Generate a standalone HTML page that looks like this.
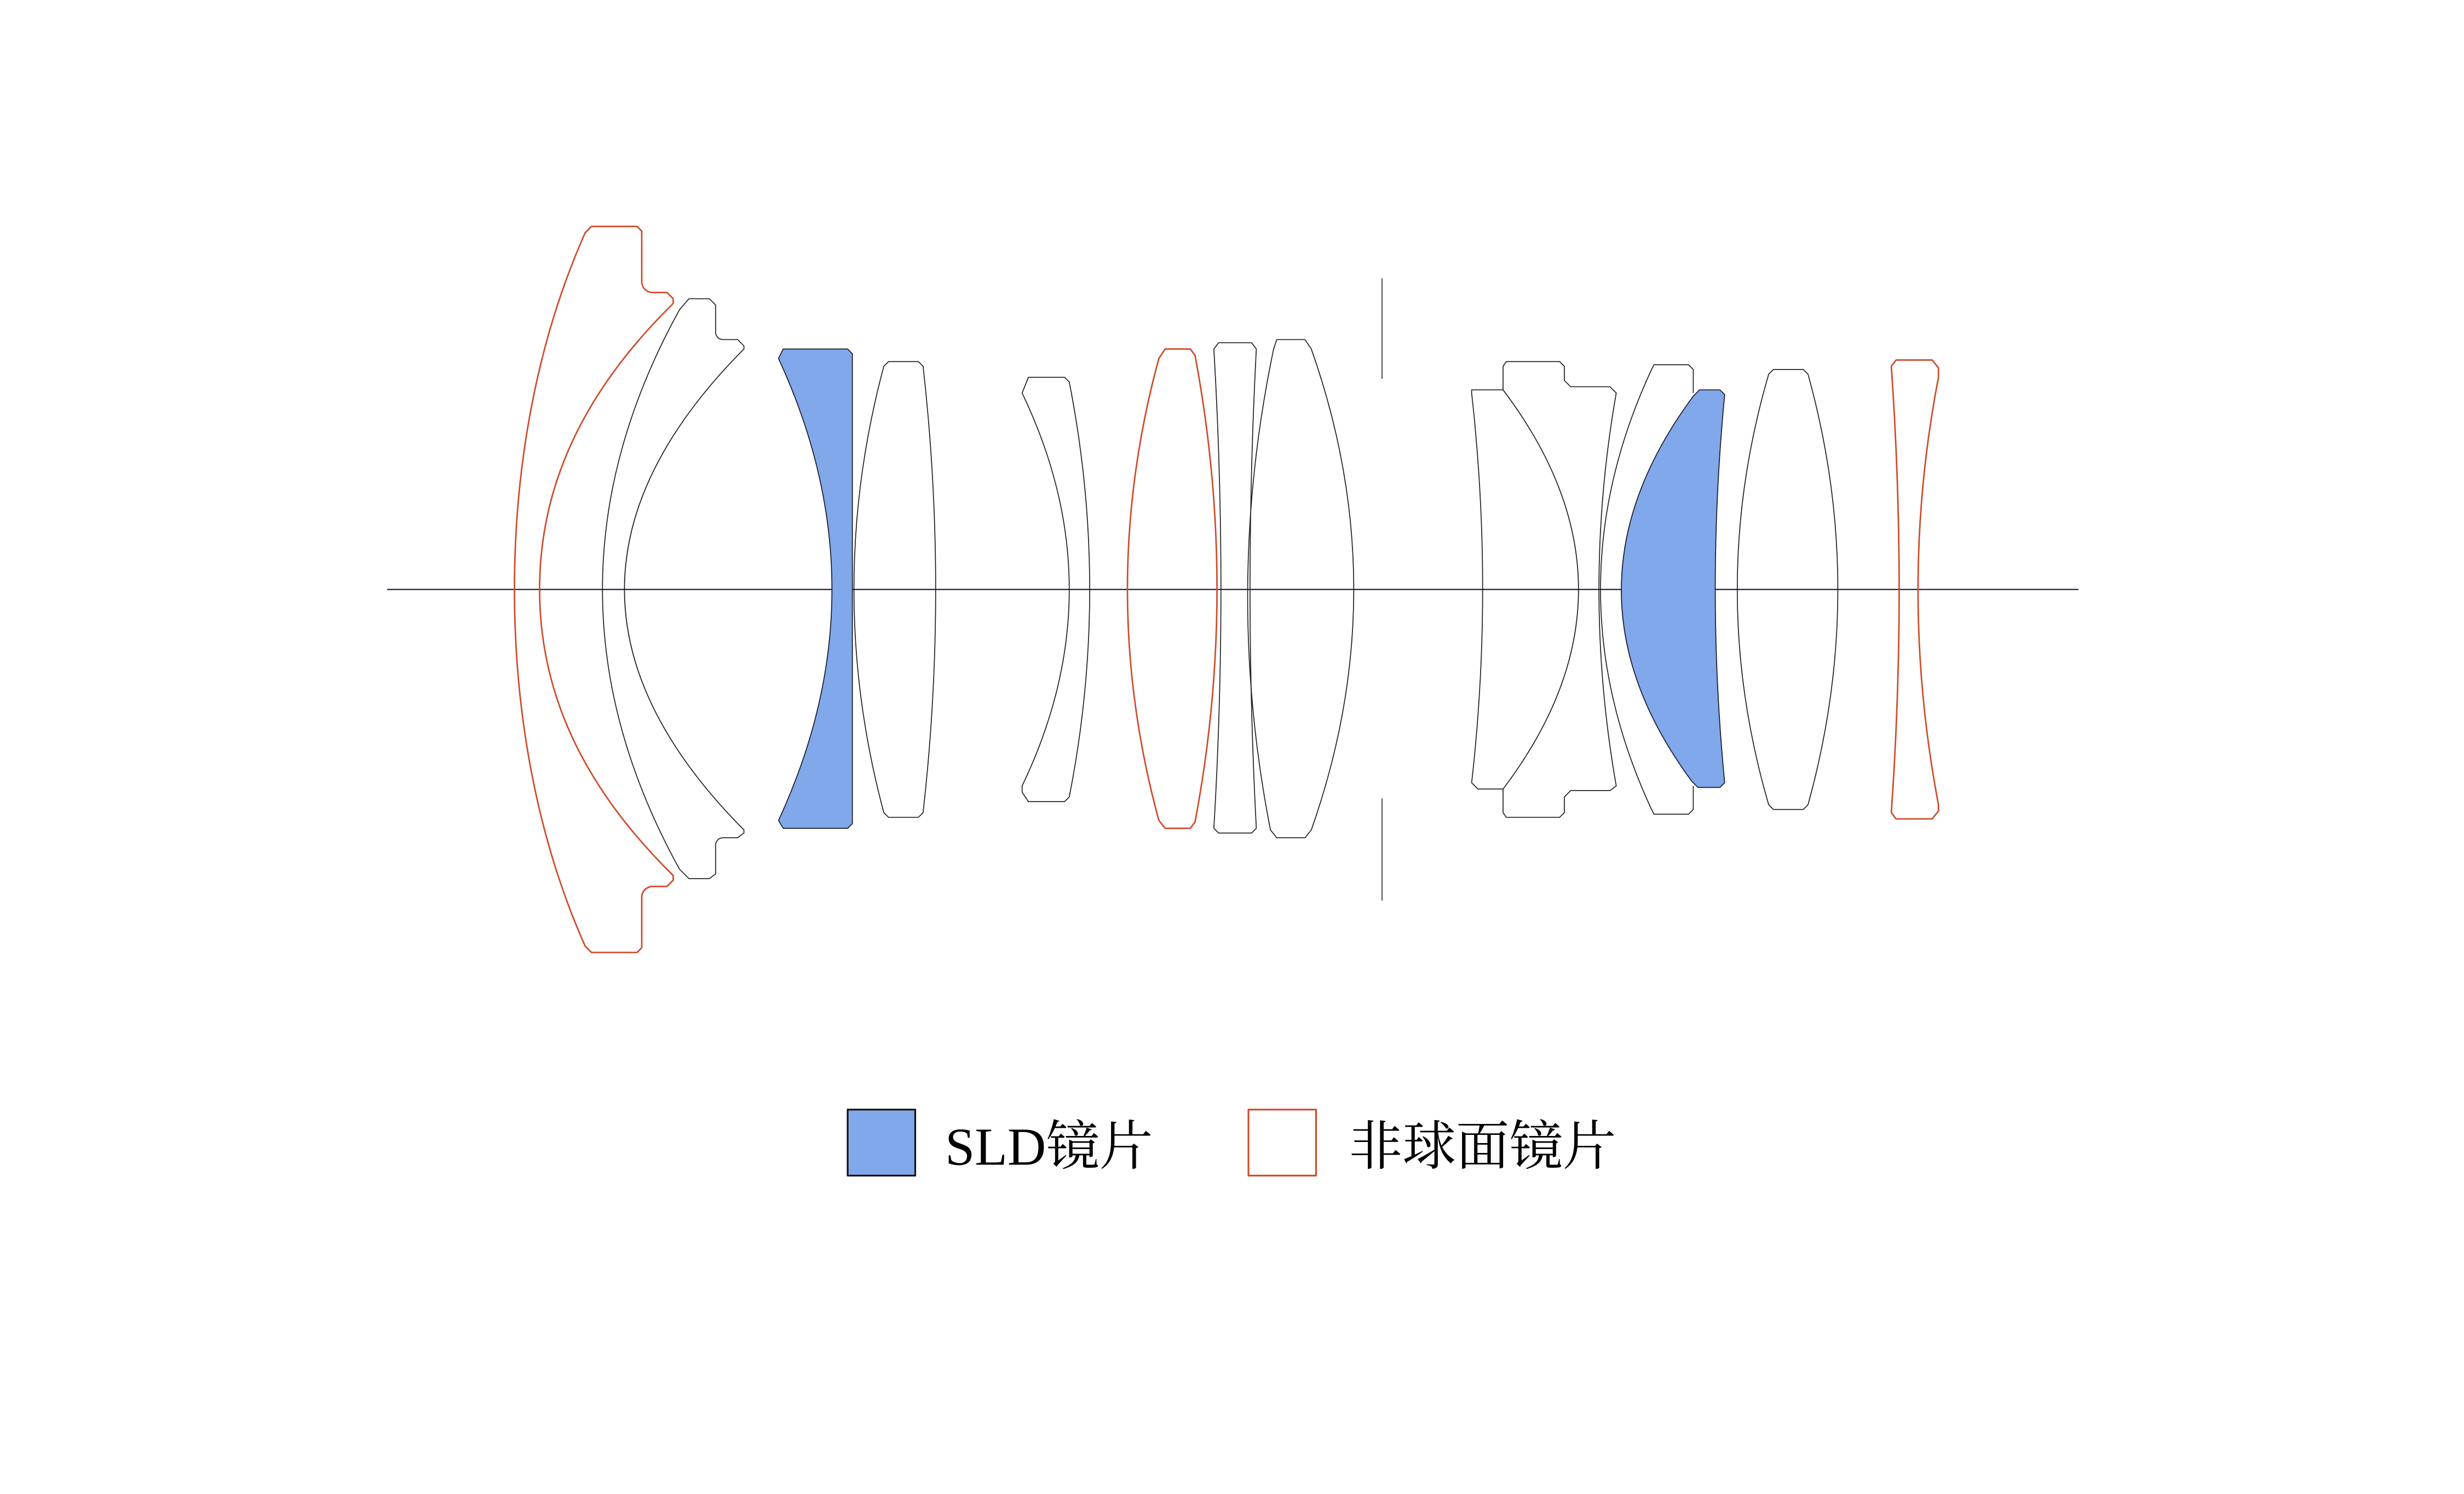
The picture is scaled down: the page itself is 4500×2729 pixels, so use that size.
<!DOCTYPE html>
<html><head><meta charset="utf-8"><style>
html,body{margin:0;padding:0;background:#fff;width:4500px;height:2729px;overflow:hidden}
svg{display:block}
</style></head><body>
<svg width="4500" height="2729" viewBox="0 0 1552 941" xmlns="http://www.w3.org/2000/svg">
<g transform="translate(0.3,0) scale(0.99)">
<g fill="none" stroke-width="0.6" stroke-linejoin="round">
<!-- axis -->
<line x1="246" y1="375" x2="1322" y2="375" stroke="#1c2340" stroke-width="0.8"/>
<!-- stop -->
<line x1="879" y1="177" x2="879" y2="241" stroke="#333"/>
<line x1="879" y1="508" x2="879" y2="573" stroke="#333"/>

<!-- L1 red -->
<path stroke="#cf4a2a" stroke-width="0.95" d="M376,144 L405,144 L408,147 L408,180 Q409,185 414,186 L424,186 L428,190 L428,193 C370,250 343,310 343,375 C343,440 370,500 428,557 L428,560 L424,564 L414,564 Q409,565 408,570 L408,603 L405,606 L376,606 L372,602 C340,530 327,450 327,375 C327,300 340,220 372,148 Z"/>
<!-- L2 -->
<path stroke="#222" d="M438,190 L451,190 L455,194 L455,212 Q456,216 460,216 L469,216 L473,220 L473,222 Q321,375 473,528 L473,530 L469,533 L460,533 Q456,533 455,537 L455,556 L451,559 L438,559 L432,553 Q334,375 432,197 Z"/>
<!-- L3 blue -->
<path stroke="#1a1a2a" fill="#80a8ea" d="M498,222 L539,222 L542,225 L542,524 L539,527 L498,527 L495,522 Q563,375 495,228 Z"/>
<!-- L4 -->
<path stroke="#222" d="M565,230 L584,230 L587,233 Q603,375 587,517 L584,520 L565,520 L562,517 Q524,375 562,233 Z"/>
<!-- L5 -->
<path stroke="#222" d="M654,240 L677,240 L680,243 Q706,375 680,507 L677,510 L654,510 L650,504 L650,500 Q710,375 650,250 Z"/>
<!-- L6 red -->
<path stroke="#cf4a2a" stroke-width="0.95" d="M741,222 L757,222 L760,226 Q788,375 760,523 L757,527 L741,527 L737,522 Q697,375 737,228 Z"/>
<!-- L7 -->
<path stroke="#222" d="M775,218 L796,218 L799,222 Q791,375 799,527 L796,530 L775,530 L772,527 Q781,375 772,222 Z"/>
<!-- L8 -->
<path stroke="#222" d="M812,216 L830,216 L834,222 Q888,375 834,528 L830,533 L812,533 L808,528 Q778,375 810,222 Z"/>
<!-- L9 + L10 cemented -->
<path stroke="#222" d="M936,250 L936,248 L956,248 Q1052,375 956,502 L940,502 L936,498 Q950,375 936,250 Z"/>
<path stroke="#222" d="M956,248 L956,233 L958,230 L992,230 L995,233 L995,242 L999,246 L1024,246 L1028,250 Q1006,375 1028,500 L1024,503 L999,503 L995,507 L995,517 L992,520 L958,520 L956,517 L956,502"/>
<!-- L11 -->
<path stroke="#222" d="M1052,232 L1074,232 L1077,235 L1077,250 M1077,500 L1077,515 L1074,518 L1052,518 L1050,514 Q986,375 1050,236 L1052,232"/>
<!-- L12 blue -->
<path stroke="#1a1a2a" fill="#80a8ea" d="M1081,248 L1094,248 L1097,251 Q1085,375 1097,498 L1094,501 L1080,501 L1076,497 Q986,375 1077,252 Z"/>
<!-- L13 -->
<path stroke="#222" d="M1128,235 L1147,235 L1150,238 Q1188,375 1150,512 L1147,515 L1128,515 L1125,512 Q1085,375 1125,238 Z"/>
<!-- L14 red -->
<path stroke="#cf4a2a" stroke-width="0.95" d="M1206,229 L1229,229 L1233,234 L1233,240 Q1207,375 1233,512 L1233,516 L1229,521 L1206,521 L1203,517 Q1213,375 1203,233 Z"/>

<!-- legend -->
<rect x="539" y="706" width="43" height="42" fill="#80a8ea" stroke="#111" stroke-width="1.1"/>
<rect x="794" y="706" width="43" height="42" fill="#fff" stroke="#cf4a2a" stroke-width="1.1"/>
</g>
<g font-family="'Liberation Serif','Noto Serif CJK SC',serif" font-size="34" fill="#000">
<text x="601" y="741">SLD镜片</text>
<text x="858" y="741">非球面镜片</text>
</g>
</g>
</svg>
</body></html>
